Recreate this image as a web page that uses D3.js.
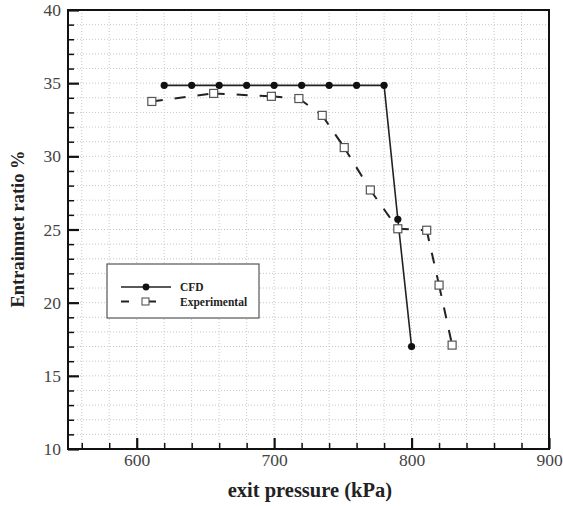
<!DOCTYPE html>
<html>
<head>
<meta charset="utf-8">
<script src="https://cdn.jsdelivr.net/npm/d3@7"></script>
<style>
  body { margin: 0; background: #fff; }
  svg text { font-family: "Liberation Serif", "Times New Roman", serif; }
</style>
</head>
<body>
<div id="chart"></div>
<script>
// data
var cfdPressure = [620, 640, 660, 680, 700, 720, 740, 760, 780, 790, 800];
var cfdRatio = [34.85, 34.85, 34.85, 34.85, 34.85, 34.85, 34.85, 34.85, 34.85, 25.7, 17.0];
var expPressure = [611, 656, 698, 718, 735, 751, 770, 790, 811, 820, 829.5];
var expRatio = [33.75, 34.3, 34.1, 33.95, 32.8, 30.6, 27.7, 25.05, 24.95, 21.2, 17.1];
var xTicks = [600, 700, 800, 900];
var yTicks = [10, 15, 20, 25, 30, 35, 40];
var seriesNames = ["CFD", "Experimental"];

var svgWidth = 563, svgHeight = 506;
var margin = { top: 10, right: 14, bottom: 57, left: 68 };
var width = svgWidth - margin.left - margin.right;
var height = svgHeight - margin.top - margin.bottom;

var svg = d3.select("#chart").append("svg")
    .attr("width", svgWidth)
    .attr("height", svgHeight);

var chartGroup = svg.append("g")
    .attr("transform", `translate(${margin.left}, ${margin.top})`);

var x = d3.scaleLinear().domain([550, 900]).range([0, width]);
var y = d3.scaleLinear().domain([10, 40]).range([height, 0]);

var xMinor = d3.range(560, 900, 20);
var yMinor = d3.range(11, 40, 1);

// dotted grid
chartGroup.append("g").selectAll("line")
    .data(xMinor)
    .enter().append("line")
    .attr("x1", d => x(d)).attr("x2", d => x(d))
    .attr("y1", 0).attr("y2", height)
    .attr("stroke", "#c8c8c8").attr("stroke-width", 1)
    .attr("stroke-dasharray", "1,2");

chartGroup.append("g").selectAll("line")
    .data(yMinor)
    .enter().append("line")
    .attr("y1", d => y(d)).attr("y2", d => y(d))
    .attr("x1", 0).attr("x2", width)
    .attr("stroke", "#c8c8c8").attr("stroke-width", 1)
    .attr("stroke-dasharray", "1,2");

// axes with inward ticks
var bottomMinor = d3.axisBottom(x).tickValues(xMinor.filter(d => xTicks.indexOf(d) < 0))
    .tickSize(-6).tickFormat("");
var bottomAxis = d3.axisBottom(x).tickValues(xTicks).tickSize(-11).tickPadding(5);
var leftMinor = d3.axisLeft(y).tickValues(yMinor.filter(d => yTicks.indexOf(d) < 0))
    .tickSize(-6).tickFormat("");
var leftAxis = d3.axisLeft(y).tickValues(yTicks).tickSize(-11).tickPadding(7);

function styleAxis(g, w) {
    g.select(".domain").remove();
    g.selectAll(".tick line").attr("stroke", "#111").attr("stroke-width", w);
    g.selectAll(".tick text").attr("fill", "#444").attr("font-size", "17.5px")
        .attr("font-family", "'Liberation Serif', serif");
}

chartGroup.append("g").attr("transform", `translate(0, ${height})`)
    .call(bottomMinor).call(g => styleAxis(g, 1.5));
chartGroup.append("g").attr("transform", `translate(0, ${height})`)
    .call(bottomAxis).call(g => styleAxis(g, 2.2));
chartGroup.append("g").call(leftMinor).call(g => styleAxis(g, 1.5));
chartGroup.append("g").call(leftAxis).call(g => styleAxis(g, 2.2));

// frame
chartGroup.append("rect")
    .attr("x", 0).attr("y", 0)
    .attr("width", width).attr("height", height)
    .attr("fill", "none").attr("stroke", "#111").attr("stroke-width", 2);

var cfdData = cfdPressure.map((p, i) => ({ p: p, r: cfdRatio[i] }));
var expData = expPressure.map((p, i) => ({ p: p, r: expRatio[i] }));

var line = d3.line().x(d => x(d.p)).y(d => y(d.r));

// CFD solid line
chartGroup.append("path")
    .datum(cfdData)
    .attr("d", line)
    .attr("fill", "none").attr("stroke", "#222").attr("stroke-width", 1.6);

// Experimental dashed line, dash restarting at each point
var expSegments = d3.pairs(expData);
chartGroup.append("g").selectAll("path")
    .data(expSegments)
    .enter().append("path")
    .attr("d", line)
    .attr("fill", "none").attr("stroke", "#222").attr("stroke-width", 2)
    .attr("stroke-dasharray", "11,12");

chartGroup.append("g").selectAll("circle")
    .data(cfdData)
    .enter().append("circle")
    .attr("cx", d => x(d.p)).attr("cy", d => y(d.r))
    .attr("r", 3.6).attr("fill", "#111");

chartGroup.append("g").selectAll("rect")
    .data(expData)
    .enter().append("rect")
    .attr("x", d => x(d.p) - 4).attr("y", d => y(d.r) - 4)
    .attr("width", 8).attr("height", 8)
    .attr("fill", "#fff").attr("stroke", "#555").attr("stroke-width", 1.2);

// legend
var legend = svg.append("g").attr("transform", "translate(107, 264)");
legend.append("rect")
    .attr("width", 152).attr("height", 54)
    .attr("fill", "#fff").attr("stroke", "#555").attr("stroke-width", 1.2);

legend.append("line")
    .attr("x1", 14).attr("x2", 64).attr("y1", 23).attr("y2", 23)
    .attr("stroke", "#222").attr("stroke-width", 1.6);
legend.append("circle").attr("cx", 39).attr("cy", 23).attr("r", 3.4).attr("fill", "#111");

legend.append("line")
    .attr("x1", 14).attr("x2", 64).attr("y1", 37.5).attr("y2", 37.5)
    .attr("stroke", "#222").attr("stroke-width", 2)
    .attr("stroke-dasharray", "8,13,14,17,2,10");
legend.append("rect").attr("x", 35).attr("y", 34).attr("width", 7).attr("height", 7)
    .attr("fill", "#fff").attr("stroke", "#555").attr("stroke-width", 1.1);

legend.selectAll("text.lab")
    .data(seriesNames)
    .enter().append("text")
    .attr("class", "lab")
    .attr("x", 73)
    .attr("y", (d, i) => 27 + i * 14.5)
    .attr("font-size", "11.5px").attr("font-weight", "bold").attr("fill", "#222")
    .text(d => d);

// axis titles
svg.append("text")
    .attr("x", margin.left + x(726)).attr("y", 497)
    .attr("text-anchor", "middle")
    .attr("font-size", "20.5px").attr("font-weight", "bold").attr("fill", "#222")
    .text("exit pressure (kPa)");

svg.append("text")
    .attr("transform", "translate(24, 229) rotate(-90)")
    .attr("text-anchor", "middle")
    .attr("font-size", "18.5px").attr("font-weight", "bold").attr("fill", "#222")
    .text("Entrainmet ratio %");
</script>
</body>
</html>
